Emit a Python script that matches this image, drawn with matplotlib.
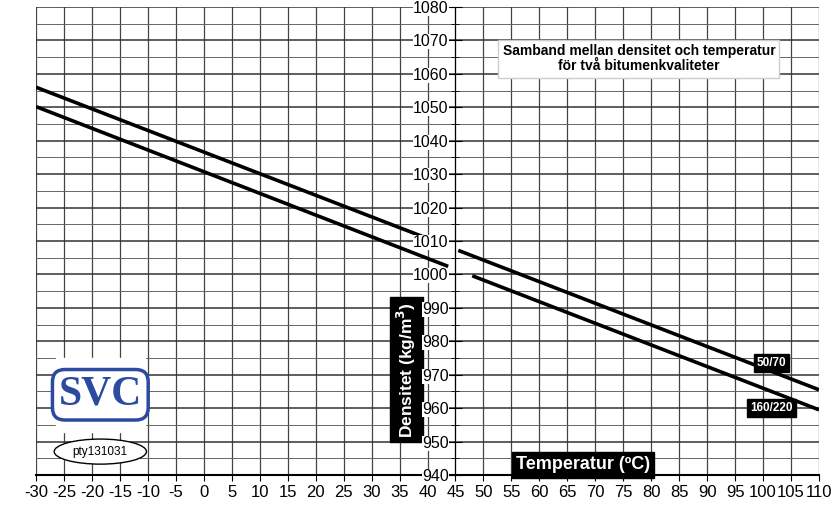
import matplotlib.pyplot as plt
from matplotlib.patches import Ellipse, FancyBboxPatch

plt.rcParams["axes.unicode_minus"] = False
plt.rcParams["font.family"] = "Liberation Sans"

# data
t_5070_a = [-30, 41.5]
d_5070_a = [1056.0, 1009.8]
t_5070_b = [45.5, 110]
d_5070_b = [1007.2, 965.5]
t_160_a = [-30, 43.7]
d_160_a = [1050.2, 1002.4]
t_160_b = [48, 110]
d_160_b = [999.6, 959.5]
x_ticks = list(range(-30, 111, 5))
y_ticks = list(range(940, 1081, 10))

fig = plt.figure(figsize=(8.36, 5.12), dpi=100)
ax = fig.add_axes([36 / 836, 37 / 512, 783 / 836, 468 / 512])
ax.set_xlim(-30, 110)
ax.set_ylim(940, 1080)

# grid
for x in x_ticks:
    ax.axvline(x, color="#444444", lw=0.9, zorder=0)
for y in range(940, 1081, 5):
    ax.axhline(y, color="#333333" if y % 10 == 0 else "#666666",
               lw=1.1 if y % 10 == 0 else 0.7, zorder=0)

for s in ["top", "right"]:
    ax.spines[s].set_visible(False)
ax.spines["left"].set_position(("data", 45))
ax.spines["bottom"].set_linewidth(1.5)
ax.set_xticks(x_ticks)
ax.set_yticks(y_ticks)
ax.set_yticks(range(945, 1080, 10), minor=True)
ax.tick_params(axis="y", direction="inout", length=10, labelsize=11.5, pad=0)
ax.tick_params(axis="y", which="minor", direction="inout", length=6)
ax.tick_params(axis="x", length=4, labelsize=12)
ax.yaxis.set_zorder(5)
for lab in ax.get_yticklabels():
    lab.set_bbox(dict(facecolor="white", edgecolor="none", pad=0))

kw = dict(color="black", lw=2.6, solid_capstyle="butt", zorder=1)
ax.plot(t_5070_a, d_5070_a, **kw)
ax.plot(t_5070_b, d_5070_b, **kw)
ax.plot(t_160_a, d_160_a, **kw)
ax.plot(t_160_b, d_160_b, **kw)

box = dict(facecolor="black", edgecolor="black", pad=2)
ax.text(101.5, 973.5, "50/70", color="white", fontsize=8.5, weight="bold",
        ha="center", va="center", bbox=box, zorder=4)
ax.text(101.5, 960.0, "160/220", color="white", fontsize=8.5, weight="bold",
        ha="center", va="center", bbox=box, zorder=4)

ax.text(36.3, 971.5, "Densitet (kg/m$^\\mathbf{3}$)", rotation=90, color="white",
        fontsize=12.5, weight="bold", ha="center", va="center",
        bbox=dict(facecolor="black", edgecolor="black", pad=3.5), zorder=2)
ax.text(67.8, 943, "Temperatur (ºC)", color="white", fontsize=13,
        weight="bold", ha="center", va="center",
        bbox=dict(facecolor="black", edgecolor="black", pad=3), zorder=4)

ax.text(77.8, 1064.5, "Samband mellan densitet och temperatur\nför två bitumenkvaliteter",
        fontsize=10, weight="bold", ha="center", va="center", linespacing=1.1,
        bbox=dict(facecolor="white", edgecolor="#cccccc", pad=3), zorder=4)

# logo
ax.add_patch(FancyBboxPatch((-26.5, 953), 16, 22, boxstyle="square,pad=0",
                            facecolor="white", edgecolor="white", zorder=3))
ax.text(-18.5, 964, "SVC", fontsize=30, weight="bold", color="#2b4aa0",
        family="Liberation Serif", ha="center", va="center", zorder=4,
        bbox=dict(facecolor="white", edgecolor="#2b4aa0", lw=2.5,
                  boxstyle="round,pad=0.15,rounding_size=0.3"))
ax.add_patch(Ellipse((-18.5, 947), 16.5, 7.5, facecolor="white",
                     edgecolor="black", lw=1, zorder=4))
ax.text(-18.5, 947, "pty131031", fontsize=8.5, ha="center", va="center", zorder=5)

fig.savefig("out.png", dpi=100)
